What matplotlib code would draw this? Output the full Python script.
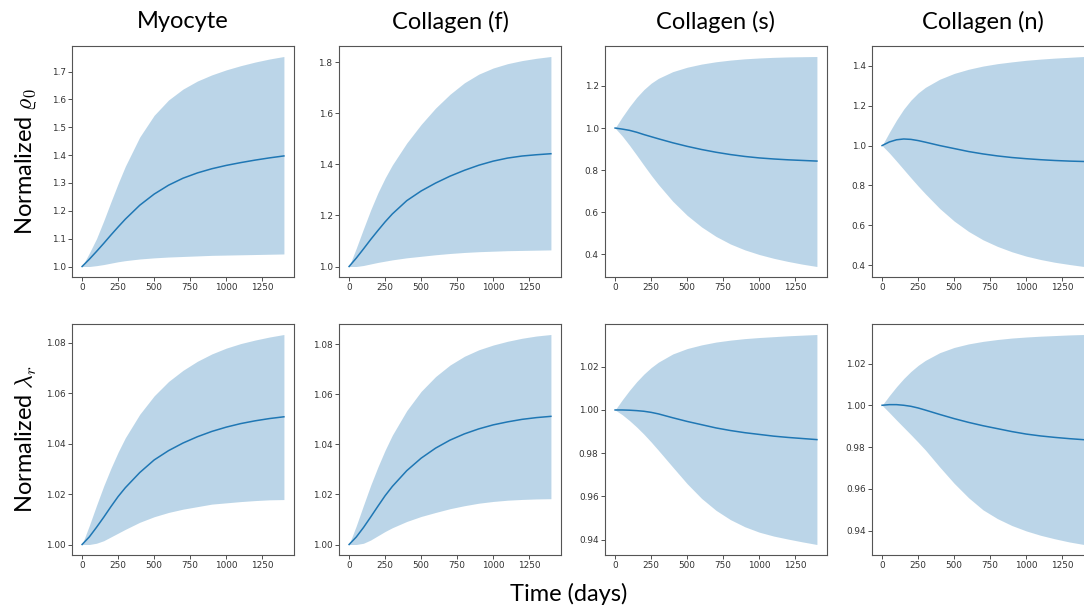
import numpy as np
import matplotlib
matplotlib.use("Agg")
import matplotlib.pyplot as plt
from matplotlib.ticker import FormatStrFormatter

plt.rcParams["mathtext.fontset"] = "cm"

# Time grid (days)
t = [0, 50, 100, 150, 200, 250, 300, 400, 500, 600, 700, 800, 900, 1000, 1100, 1200, 1300, 1400]

columns = ["Myocyte", "Collagen (f)", "Collagen (s)", "Collagen (n)"]
row_labels = [r"Normalized $\varrho_0$", r"Normalized $\lambda_r$"]

# --- Normalized rho_0: mean and band limits ---
rho_myo_mean = [1.0, 1.026, 1.054, 1.083, 1.113, 1.142, 1.17, 1.22, 1.26, 1.292, 1.317, 1.336, 1.351, 1.363, 1.373, 1.382, 1.39, 1.397]
rho_myo_hi = [1.0, 1.048, 1.10, 1.164, 1.232, 1.298, 1.36, 1.465, 1.543, 1.598, 1.637, 1.666, 1.688, 1.706, 1.721, 1.734, 1.745, 1.754]
rho_myo_lo = [1.0, 1.0, 1.003, 1.007, 1.012, 1.017, 1.021, 1.027, 1.031, 1.034, 1.036, 1.038, 1.040, 1.041, 1.042, 1.043, 1.044, 1.045]

rho_cf_mean = [1.0, 1.033, 1.069, 1.106, 1.141, 1.175, 1.206, 1.258, 1.296, 1.327, 1.354, 1.377, 1.397, 1.413, 1.425, 1.433, 1.438, 1.442]
rho_cf_hi = [1.0, 1.072, 1.148, 1.222, 1.289, 1.347, 1.398, 1.484, 1.557, 1.621, 1.675, 1.72, 1.754, 1.778, 1.795, 1.807, 1.816, 1.823]
rho_cf_lo = [1.0, 1.0, 1.004, 1.01, 1.016, 1.021, 1.026, 1.034, 1.04, 1.046, 1.051, 1.055, 1.058, 1.06, 1.062, 1.063, 1.064, 1.065]

rho_cs_mean = [1.0, 0.995, 0.989, 0.98, 0.969, 0.959, 0.949, 0.93, 0.913, 0.898, 0.885, 0.874, 0.865, 0.858, 0.853, 0.849, 0.846, 0.843]
rho_cs_hi = [1.0, 1.053, 1.102, 1.146, 1.183, 1.213, 1.236, 1.268, 1.289, 1.304, 1.315, 1.323, 1.329, 1.333, 1.336, 1.338, 1.339, 1.340]
rho_cs_lo = [1.0, 0.962, 0.918, 0.871, 0.823, 0.776, 0.732, 0.652, 0.585, 0.53, 0.485, 0.449, 0.421, 0.399, 0.381, 0.366, 0.353, 0.342]

rho_cn_mean = [1.0, 1.018, 1.029, 1.033, 1.031, 1.025, 1.017, 1.0, 0.985, 0.97, 0.958, 0.948, 0.94, 0.934, 0.929, 0.925, 0.922, 0.92]
rho_cn_hi = [1.0, 1.066, 1.128, 1.183, 1.228, 1.264, 1.292, 1.333, 1.362, 1.383, 1.399, 1.411, 1.42, 1.428, 1.434, 1.439, 1.443, 1.447]
rho_cn_lo = [1.0, 0.963, 0.922, 0.88, 0.838, 0.797, 0.758, 0.684, 0.621, 0.569, 0.527, 0.494, 0.467, 0.445, 0.428, 0.414, 0.403, 0.393]

# --- Normalized lambda_r: mean and band limits ---
lam_myo_mean = [1.0, 1.003, 1.0068, 1.0108, 1.015, 1.019, 1.0225, 1.0285, 1.0335, 1.0372, 1.0402, 1.0427, 1.0448, 1.0465, 1.0479, 1.049, 1.0499, 1.0506]
lam_myo_hi = [1.0, 1.0075, 1.0155, 1.0232, 1.0302, 1.0366, 1.0423, 1.0516, 1.0589, 1.0646, 1.069, 1.0726, 1.0755, 1.0778, 1.0796, 1.081, 1.0822, 1.0832]
lam_myo_lo = [1.0, 1.0, 1.0005, 1.0015, 1.003, 1.0045, 1.006, 1.0088, 1.011, 1.0127, 1.014, 1.015, 1.016, 1.0165, 1.017, 1.0174, 1.0177, 1.0178]

lam_cf_mean = [1.0, 1.003, 1.0068, 1.011, 1.0153, 1.0195, 1.0232, 1.0295, 1.0345, 1.0385, 1.0417, 1.0442, 1.0462, 1.0478, 1.049, 1.05, 1.0507, 1.0512]
lam_cf_hi = [1.0, 1.0075, 1.0157, 1.0237, 1.031, 1.0377, 1.0437, 1.0535, 1.0612, 1.0671, 1.0717, 1.0752, 1.0778, 1.0797, 1.0812, 1.0824, 1.0833, 1.0839]
lam_cf_lo = [1.0, 1.0, 1.0005, 1.0018, 1.0035, 1.0052, 1.0067, 1.0092, 1.0112, 1.0128, 1.0143, 1.0155, 1.0165, 1.0172, 1.0177, 1.018, 1.0182, 1.0183]

lam_cs_mean = [1.0, 1.0, 0.9999, 0.9997, 0.9994, 0.9989, 0.9982, 0.9964, 0.9947, 0.9932, 0.9917, 0.9905, 0.9895, 0.9887, 0.9879, 0.9873, 0.9868, 0.9863]
lam_cs_hi = [1.0, 1.0047, 1.0091, 1.0131, 1.0166, 1.0196, 1.0221, 1.0259, 1.0284, 1.0301, 1.0314, 1.0323, 1.033, 1.0335, 1.0339, 1.0343, 1.0346, 1.0349]
lam_cs_lo = [1.0, 0.9978, 0.9951, 0.9921, 0.9888, 0.9852, 0.9814, 0.9736, 0.9659, 0.9591, 0.9536, 0.9493, 0.946, 0.9435, 0.9417, 0.9403, 0.939, 0.9378]

lam_cn_mean = [1.0, 1.0003, 1.0003, 1.0, 0.9995, 0.9987, 0.9977, 0.9956, 0.9936, 0.9918, 0.9902, 0.9888, 0.9874, 0.9862, 0.9853, 0.9846, 0.984, 0.9835]
lam_cn_hi = [1.0, 1.0046, 1.0089, 1.0128, 1.0162, 1.0191, 1.0215, 1.0252, 1.0277, 1.0294, 1.0306, 1.0315, 1.0322, 1.0327, 1.0331, 1.0334, 1.0337, 1.0339]
lam_cn_lo = [1.0, 0.9965, 0.9929, 0.9894, 0.9859, 0.9823, 0.9786, 0.9704, 0.9626, 0.9557, 0.9499, 0.9457, 0.9424, 0.9398, 0.9377, 0.936, 0.9345, 0.9333]

x_ticks = [0, 250, 500, 750, 1000, 1250]
y_ticks = [
    [[1.0, 1.1, 1.2, 1.3, 1.4, 1.5, 1.6, 1.7], [1.0, 1.2, 1.4, 1.6, 1.8],
     [0.4, 0.6, 0.8, 1.0, 1.2], [0.4, 0.6, 0.8, 1.0, 1.2, 1.4]],
    [[1.00, 1.02, 1.04, 1.06, 1.08], [1.00, 1.02, 1.04, 1.06, 1.08],
     [0.94, 0.96, 0.98, 1.00, 1.02], [0.94, 0.96, 0.98, 1.00, 1.02]],
]
y_fmt = ["%.1f", "%.2f"]

panels = [
    [(rho_myo_mean, rho_myo_lo, rho_myo_hi), (rho_cf_mean, rho_cf_lo, rho_cf_hi),
     (rho_cs_mean, rho_cs_lo, rho_cs_hi), (rho_cn_mean, rho_cn_lo, rho_cn_hi)],
    [(lam_myo_mean, lam_myo_lo, lam_myo_hi), (lam_cf_mean, lam_cf_lo, lam_cf_hi),
     (lam_cs_mean, lam_cs_lo, lam_cs_hi), (lam_cn_mean, lam_cn_lo, lam_cn_hi)],
]

W, H = 1084, 608
fig = plt.figure(figsize=(W / 100, H / 100), dpi=100)

col_left = [72, 339, 605, 872]
row_top = [46, 324]
ax_w, ax_h = 222, 231
label_font = "Lato"
blue = "#1f77b4"

for r in range(2):
    for c in range(4):
        left = col_left[c] / W
        bottom = 1 - (row_top[r] + ax_h) / H
        ax = fig.add_axes([left, bottom, ax_w / W, ax_h / H])
        mean, lo, hi = panels[r][c]
        ax.fill_between(t, lo, hi, color=blue, alpha=0.3, linewidth=0)
        ax.plot(t, mean, color=blue, linewidth=1.1)
        ax.set_xticks(x_ticks)
        ax.set_yticks(y_ticks[r][c])
        ax.yaxis.set_major_formatter(FormatStrFormatter(y_fmt[r]))
        ax.tick_params(labelsize=6.4, length=2.6, width=0.6, pad=2,
                       colors="#333333")
        for s in ax.spines.values():
            s.set_linewidth(0.8)
            s.set_color("#555555")
        if r == 0:
            fig.text((col_left[c] + ax_w / 2) / W, 1 - 22 / H, columns[c],
                     ha="center", va="center", fontsize=17, family=label_font)
    fig.text(26 / W, 1 - (row_top[r] + ax_h / 2) / H, row_labels[r],
             rotation=90, ha="center", va="center", fontsize=17,
             family=label_font)

fig.text(569 / W, 1 - 594 / H, "Time (days)", ha="center", va="center",
         fontsize=17, family=label_font)

fig.savefig("out.png", dpi=100)
